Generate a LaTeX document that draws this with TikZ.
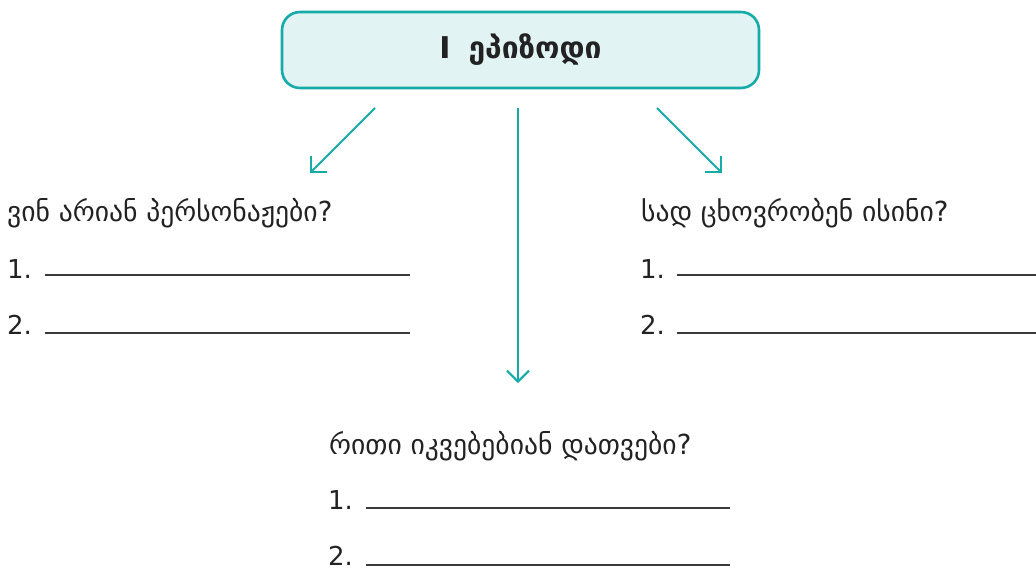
\documentclass[tikz,border=0pt]{standalone}
\usepackage{fontspec}
\setmainfont{DejaVu Sans}
\usetikzlibrary{arrows.meta}
\definecolor{teal1}{HTML}{14ABA8}
\definecolor{tealfill}{HTML}{E1F3F3}
\definecolor{ink}{HTML}{222222}
\definecolor{rule}{HTML}{3A3A3A}
\tikzset{
  titlebox/.style={draw=teal1, fill=tealfill, line width=2.6pt, rounded corners=18pt,
    minimum width=477pt, minimum height=76pt, inner sep=0pt,
    font=\fontsize{30}{34}\selectfont\bfseries, text=ink},
  question/.style={anchor=base west, inner sep=0pt, font=\fontsize{27.6}{31}\selectfont, text=ink},
  num/.style={anchor=base west, inner sep=0pt, font=\fontsize{26}{30}\selectfont, text=ink},
  blank/.style={draw=rule, line width=1.3pt},
  flow/.style={draw=teal1, line width=2pt, -{Straight Barb[length=11pt,width=22pt,line width=2pt]}}
}
\begin{document}
\begin{tikzpicture}[x=1pt,y=-1pt]
\useasboundingbox (0,0) rectangle (1036,568);
\node[titlebox] (title) at (520.5,50) {I\hspace{0.6em}ეპიზოდი};

\coordinate (lA) at (375,108);
\coordinate (lB) at (310,173);
\coordinate (cA) at (518,108);
\coordinate (cB) at (518,383);
\coordinate (rA) at (657,108);
\coordinate (rB) at (722,173);
\draw[flow] (lA) -- (lB);
\draw[flow] (cA) -- (cB);
\draw[flow] (rA) -- (rB);

% left
\node[question] (q1) at (7,221) {ვინ არიან პერსონაჟები?};
\node[num] (q1a) at (7,278) {1.};
\node[num] (q1b) at (7,334) {2.};
\draw[blank] (45,275) -- (410,275);
\draw[blank] (45,333) -- (410,333);

% right
\node[question] (q2) at (641,221) {სად ცხოვრობენ ისინი?};
\node[num] (q2a) at (640,278) {1.};
\node[num] (q2b) at (640,334) {2.};
\draw[blank] (677,275) -- (1036,275);
\draw[blank] (677,333) -- (1036,333);

% bottom
\node[question] (q3) at (329,454) {რითი იკვებებიან დათვები?};
\node[num] (q3a) at (328,509) {1.};
\node[num] (q3b) at (328,565) {2.};
\draw[blank] (366,508) -- (730,508);
\draw[blank] (366,565) -- (730,565);
\end{tikzpicture}
\end{document}
